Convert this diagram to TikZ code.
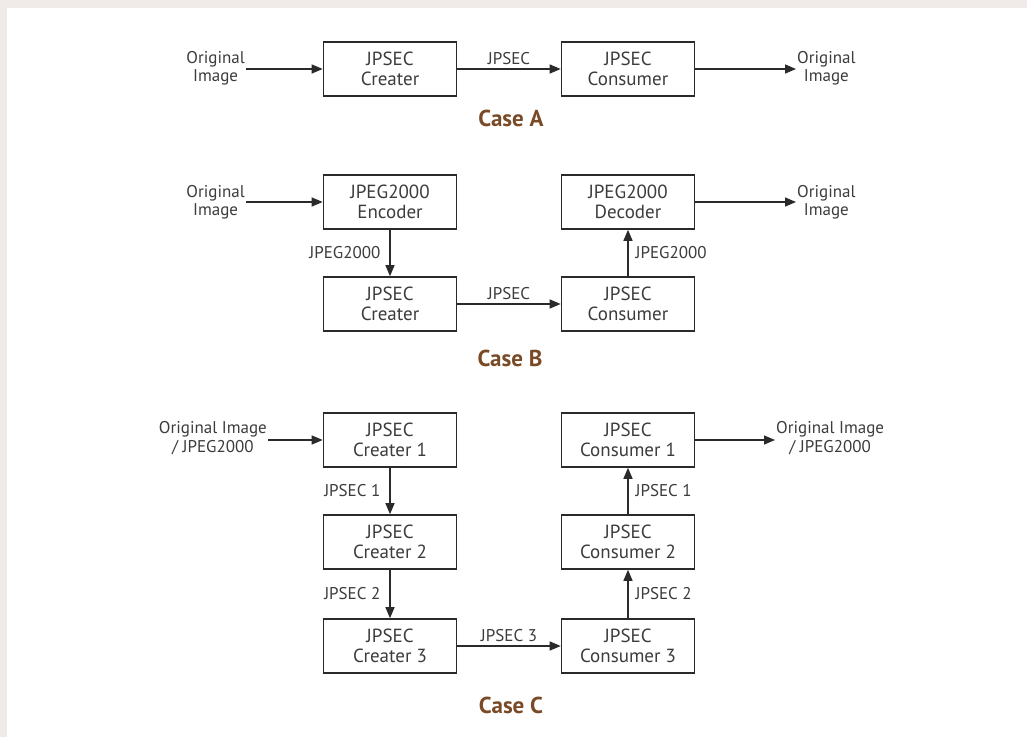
\documentclass[tikz,border=0pt]{standalone}
\usepackage{fontspec}
\setmainfont{PT Sans}
\usetikzlibrary{arrows.meta}
\definecolor{beige}{HTML}{F0EBE8}
\definecolor{txt}{HTML}{3C3C3C}
\definecolor{ln}{HTML}{2A2A2A}
\definecolor{brown}{HTML}{7A4A26}
\begin{document}
\begin{tikzpicture}[x=1pt,y=-1pt,
  box/.style={draw=ln,line width=1.6pt,minimum width=133pt,minimum height=54pt,align=center,text=txt,font=\fontsize{19}{20.5}\selectfont,inner sep=0pt},
  lbl/.style={text=txt,font=\fontsize{17}{18.5}\selectfont,align=center,inner sep=1pt},
  arr/.style={draw=ln,line width=1.3pt,-{Triangle[length=11pt,width=9pt]}},
  casel/.style={text=brown,font=\bfseries\fontsize{23}{26}\selectfont}]
\useasboundingbox (0,0) rectangle (1027,737);
\fill[beige] (0,0) rectangle (1027,737);
\fill[white] (7,8) rectangle (1027,737);
% Case A
\node[box] (creA) at (390,69) {JPSEC\\Creater};
\node[box] (conA) at (628,69) {JPSEC\\Consumer};
\node[lbl,anchor=east] (inA) at (246,68) {Original\\Image};
\node[lbl,anchor=west] (outA) at (796,68) {Original\\Image};
\draw[arr] (inA.east |- creA.west) -- (creA.west);
\draw[arr] (creA.east) -- node[lbl,above=3pt]{JPSEC} (conA.west);
\draw[arr] (conA.east) -- (outA.west |- conA.east);
\node[casel] (caseA) at (511,118) {Case A};
% Case B
\node[box] (encB) at (390,202) {JPEG2000\\Encoder};
\node[box] (creB) at (390,304) {JPSEC\\Creater};
\node[box] (decB) at (628,202) {JPEG2000\\Decoder};
\node[box] (conB) at (628,304) {JPSEC\\Consumer};
\node[lbl,anchor=east] (inB) at (246,202) {Original\\Image};
\node[lbl,anchor=west] (outB) at (796,202) {Original\\Image};
\draw[arr] (inB.east |- encB.west) -- (encB.west);
\draw[arr] (decB.east) -- (outB.west |- decB.east);
\draw[arr] (encB.south) -- node[lbl,left=8pt]{JPEG2000} (creB.north);
\draw[arr] (creB.east) -- node[lbl,above=3pt]{JPSEC} (conB.west);
\draw[arr] (conB.north) -- node[lbl,right=6pt]{JPEG2000} (decB.south);
\node[casel] (caseB) at (510,358) {Case B};
% Case C
\node[box] (cr1) at (390,440) {JPSEC\\Creater 1};
\node[box] (cr2) at (390,542) {JPSEC\\Creater 2};
\node[box] (cr3) at (390,646) {JPSEC\\Creater 3};
\node[box] (co1) at (628,440) {JPSEC\\Consumer 1};
\node[box] (co2) at (628,542) {JPSEC\\Consumer 2};
\node[box] (co3) at (628,646) {JPSEC\\Consumer 3};
\node[lbl,anchor=east] (inC) at (268,438) {Original Image\\/ JPEG2000};
\node[lbl,anchor=west] (outC) at (775,438) {Original Image\\/ JPEG2000};
\draw[arr] (inC.east |- cr1.west) -- (cr1.west);
\draw[arr] (co1.east) -- (outC.west |- co1.east);
\draw[arr] (cr1.south) -- node[lbl,left=8pt]{JPSEC 1} (cr2.north);
\draw[arr] (cr2.south) -- node[lbl,left=8pt]{JPSEC 2} (cr3.north);
\draw[arr] (cr3.east) -- node[lbl,above=3pt]{JPSEC 3} (co3.west);
\draw[arr] (co3.north) -- node[lbl,right=6pt]{JPSEC 2} (co2.south);
\draw[arr] (co2.north) -- node[lbl,right=6pt]{JPSEC 1} (co1.south);
\node[casel] (caseC) at (511,705) {Case C};
\end{tikzpicture}
\end{document}
